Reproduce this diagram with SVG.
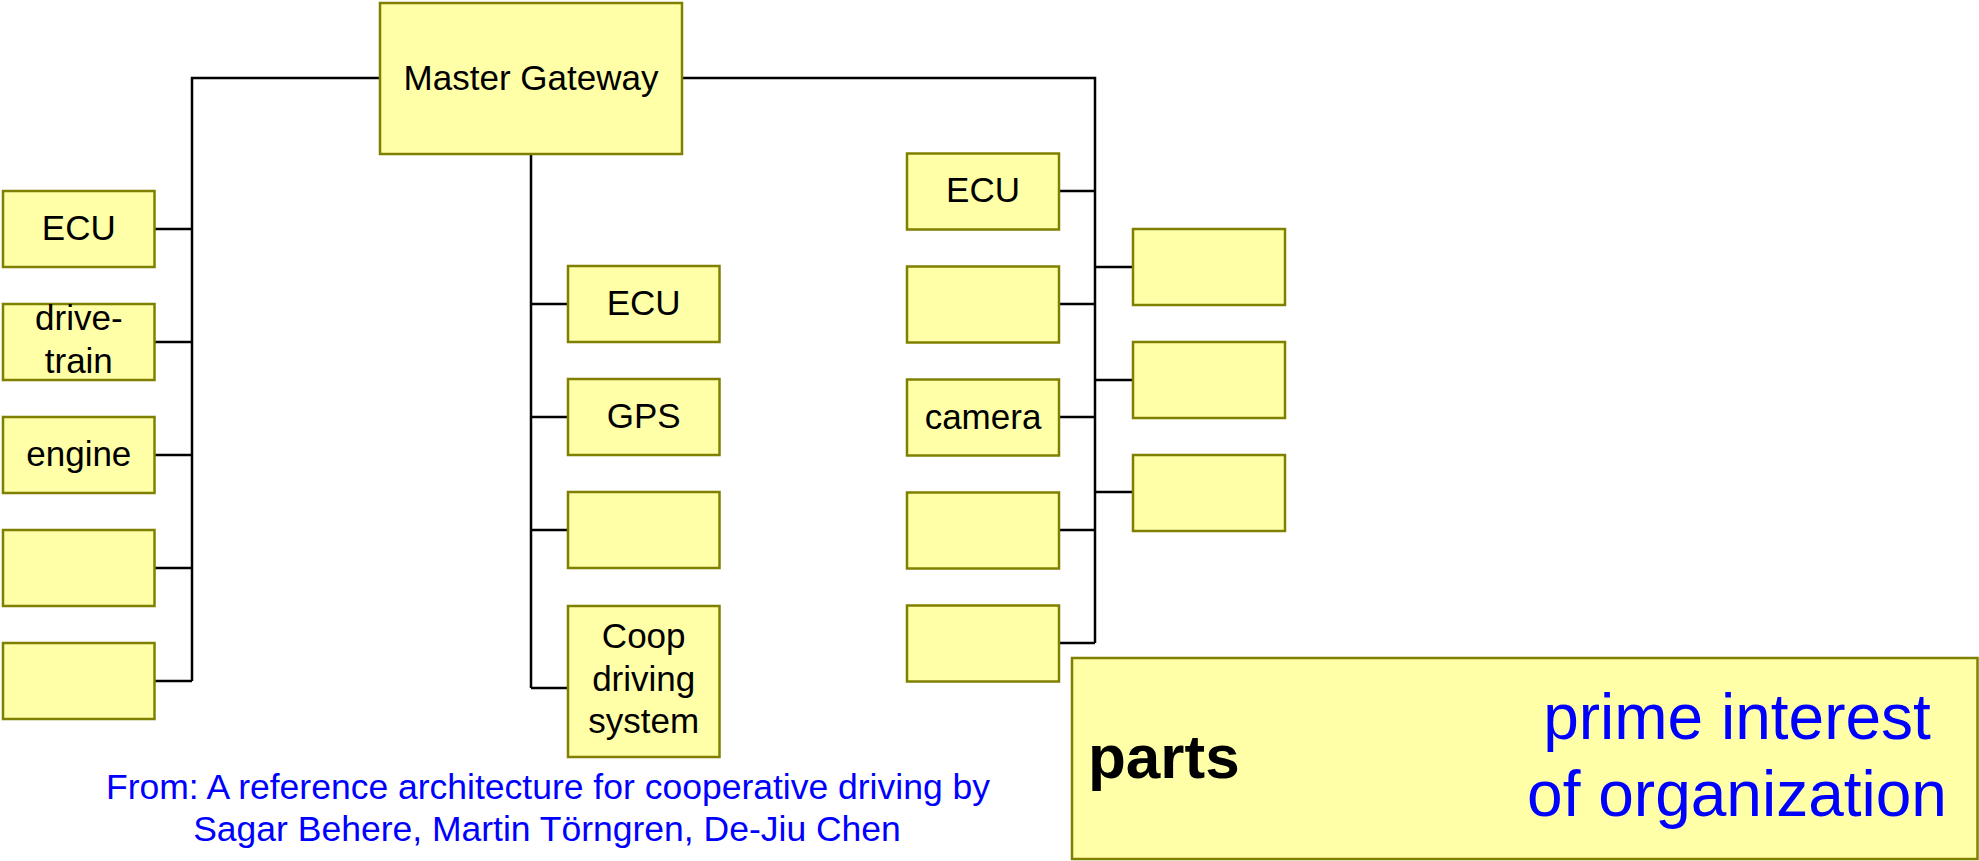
<svg xmlns="http://www.w3.org/2000/svg" width="1979" height="861" viewBox="0 0 1979 861">
  <style>
    .box { fill: #FFFFA8; stroke: #808000; stroke-width: 2.5; }
    .lbl { font-family: "Liberation Sans", Arial, sans-serif; font-size: 35px; fill: #000; text-anchor: middle; }
    .wire { fill: none; stroke: #000; stroke-width: 2.5; }
    .cite { font-family: "Liberation Sans", Arial, sans-serif; font-size: 35.5px; fill: #0000FF; text-anchor: middle; }
  </style>
  <rect width="1979" height="861" fill="#FFFFFF"/>

  <!-- bus lines -->
  <g id="connectors" class="wire">
    <!-- left bus -->
    <path d="M380,78 H192 V681"/>
    <path d="M154.5,229 H192 M154.5,342 H192 M154.5,455 H192 M154.5,568 H192 M154.5,681 H192"/>
    <!-- centre bus -->
    <path d="M531,154 V688"/>
    <path d="M531,304 H568 M531,417 H568 M531,530 H568 M531,688 H568"/>
    <!-- right bus -->
    <path d="M682,78 H1095 V643"/>
    <path d="M1059,191 H1095 M1059,304 H1095 M1059,417 H1095 M1059,530 H1095 M1059,643 H1095"/>
    <path d="M1095,267 H1133 M1095,380 H1133 M1095,492 H1133"/>
  </g>

  <g id="master-gateway">
    <rect class="box" x="380" y="3" width="302" height="151"/>
    <text class="lbl" x="531" y="90">Master Gateway</text>
  </g>

  <!-- left column -->
  <g id="left-ecu">
    <rect class="box" x="3" y="191" width="151.5" height="76"/>
    <text class="lbl" x="78.8" y="240">ECU</text>
  </g>
  <g id="left-drivetrain">
    <rect class="box" x="3" y="304" width="151.5" height="76"/>
    <text class="lbl" x="78.8" y="330">drive-</text>
    <text class="lbl" x="78.8" y="372.5">train</text>
  </g>
  <g id="left-engine">
    <rect class="box" x="3" y="417" width="151.5" height="76"/>
    <text class="lbl" x="78.8" y="466">engine</text>
  </g>
  <g id="left-blank-1">
    <rect class="box" x="3" y="530" width="151.5" height="76"/>
  </g>
  <g id="left-blank-2">
    <rect class="box" x="3" y="643" width="151.5" height="76"/>
  </g>

  <!-- centre column -->
  <g id="mid-ecu">
    <rect class="box" x="568" y="266" width="151.5" height="76"/>
    <text class="lbl" x="643.7" y="315">ECU</text>
  </g>
  <g id="mid-gps">
    <rect class="box" x="568" y="379" width="151.5" height="76"/>
    <text class="lbl" x="643.7" y="428">GPS</text>
  </g>
  <g id="mid-blank">
    <rect class="box" x="568" y="492" width="151.5" height="76"/>
  </g>
  <g id="mid-coop">
    <rect class="box" x="568" y="606" width="151.5" height="151"/>
    <text class="lbl" x="643.7" y="648">Coop</text>
    <text class="lbl" x="643.7" y="690.5">driving</text>
    <text class="lbl" x="643.7" y="733">system</text>
  </g>

  <!-- right inner column -->
  <g id="right-ecu">
    <rect class="box" x="907" y="153.5" width="152" height="76"/>
    <text class="lbl" x="983" y="202">ECU</text>
  </g>
  <g id="right-blank-1">
    <rect class="box" x="907" y="266.5" width="152" height="76"/>
  </g>
  <g id="right-camera">
    <rect class="box" x="907" y="379.5" width="152" height="76"/>
    <text class="lbl" x="983" y="428.5">camera</text>
  </g>
  <g id="right-blank-2">
    <rect class="box" x="907" y="492.5" width="152" height="76"/>
  </g>
  <g id="right-blank-3">
    <rect class="box" x="907" y="605.5" width="152" height="76"/>
  </g>

  <!-- right outer column -->
  <g id="outer-blank-1">
    <rect class="box" x="1133" y="229" width="152" height="76"/>
  </g>
  <g id="outer-blank-2">
    <rect class="box" x="1133" y="342" width="152" height="76"/>
  </g>
  <g id="outer-blank-3">
    <rect class="box" x="1133" y="455" width="152" height="76"/>
  </g>

  <!-- legend panel -->
  <g id="legend">
    <rect class="box" x="1072" y="658" width="905.5" height="201"/>
    <text x="1088" y="778" font-family="'Liberation Sans', Arial, sans-serif" font-size="62" font-weight="bold" fill="#000">parts</text>
    <text x="1737" y="739" font-family="'Liberation Sans', Arial, sans-serif" font-size="64" fill="#0000FF" text-anchor="middle">prime interest</text>
    <text x="1737" y="816" font-family="'Liberation Sans', Arial, sans-serif" font-size="64" fill="#0000FF" text-anchor="middle">of organization</text>
  </g>

  <g id="citation">
    <text class="cite" x="548" y="799">From: A reference architecture for cooperative driving by</text>
    <text class="cite" x="547" y="841">Sagar Behere, Martin Törngren, De-Jiu Chen</text>
  </g>
</svg>
